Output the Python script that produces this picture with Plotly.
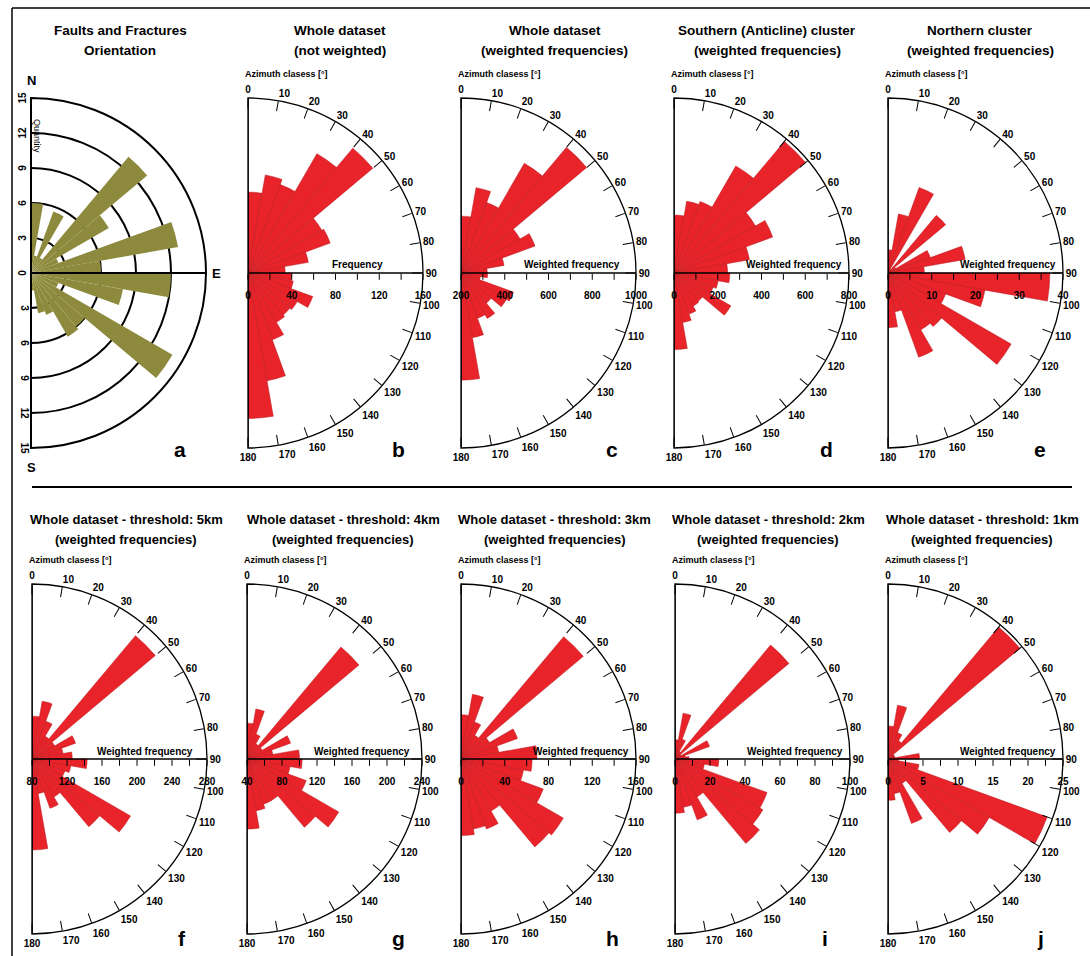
import plotly.graph_objects as go

W, H = 1090, 956
FONT = "Arial, 'Liberation Sans', Helvetica, sans-serif"
RED = "#e8232a"
RED_EDGE = "#b8161c"
OLIVE = "#8d8a3d"

# 10-degree azimuth classes (bin centres) and angular tick marks
azimuth_bins = [5, 15, 25, 35, 45, 55, 65, 75, 85, 95, 105, 115, 125, 135, 145, 155, 165, 175]
azimuth_ticks = [0, 10, 20, 30, 40, 50, 60, 70, 80, 90, 100, 110, 120, 130, 140, 150, 160, 170, 180]

# (a) number of faults / fractures per class
quantity_a = [6.0, 1.5, 5.6, 1.5, 13.0, 7.7, 2.5, 12.8, 6.0, 12.0, 8.0, 2.5, 14.0, 6.0, 6.3, 3.8, 3.5, 1.5]
quantity_ticks = [0, 3, 6, 9, 12, 15]

# (b) whole dataset, not weighted
freq_b = [74, 91, 86, 126, 149, 78, 80, 56, 34, 40, 42, 63, 52, 50, 52, 65, 100, 133]
# (c) whole dataset, weighted
wfreq_c = [460, 596, 543, 779, 950, 512, 560, 400, 320, 322, 290, 455, 440, 380, 440, 420, 500, 690]
# (d) southern (anticline) cluster
wfreq_d = [265, 333, 348, 565, 785, 430, 480, 350, 245, 255, 205, 190, 300, 170, 175, 200, 230, 350]
# (e) northern cluster
wfreq_e = [5.3, 13.7, 20.8, 1.0, 17.2, 2.0, 10.3, 17.9, 8.3, 37.0, 22.5, 14.0, 32.5, 16.0, 15.0, 20.5, 9.0, 12.5]
# (f)-(j) whole dataset with length thresholds 5, 4, 3, 2, 1 km
wfreq_f = [129, 147, 126, 110, 264, 110, 133, 116, 126, 143, 125, 120, 210, 181, 130, 140, 120, 184]
wfreq_g = [81, 98, 70, 60, 207, 60, 93, 70, 100, 103, 90, 112, 161, 142, 95, 95, 100, 120]
wfreq_h = [40.5, 60, 36, 25, 146, 30, 55, 35, 69.5, 65, 58, 80, 108, 105, 55, 68, 65, 70]
wfreq_i = [11, 26.6, 12, 5, 85, 4, 21, 6, 8, 25, 17, 56, 58, 63, 25, 37, 28, 31]
wfreq_j = [4.7, 7.8, 4, 3, 24.6, 1, 1, 1, 4.5, 1.5, 4.5, 24.2, 16.7, 13.7, 4, 9.8, 5, 5.9]

# radial scales: (start, end, tick step, label step)
scale_b = (0, 160, 20, 40)
scale_c = (200, 1000, 100, 200)
scale_d = (0, 800, 100, 200)
scale_e = (0, 40, 5, 10)
scale_f = (80, 280, 20, 40)
scale_g = (40, 240, 20, 40)
scale_h = (0, 160, 20, 40)
scale_i = (0, 100, 10, 20)
scale_j = (0, 25, 2.5, 5)

titles_top = [
    ("Faults and Fractures", "Orientation"),
    ("Whole dataset", "(not weighted)"),
    ("Whole dataset", "(weighted frequencies)"),
    ("Southern (Anticline) cluster", "(weighted frequencies)"),
    ("Northern cluster", "(weighted frequencies)"),
]
titles_bottom = [
    ("Whole dataset - threshold: 5km", "(weighted frequencies)"),
    ("Whole dataset - threshold: 4km", "(weighted frequencies)"),
    ("Whole dataset - threshold: 3km", "(weighted frequencies)"),
    ("Whole dataset - threshold: 2km", "(weighted frequencies)"),
    ("Whole dataset - threshold: 1km", "(weighted frequencies)"),
]
letters_top = ["a", "b", "c", "d", "e"]
letters_bottom = ["f", "g", "h", "i", "j"]

# ---- layout geometry (pixels) ----
R = 175
CY_TOP, CY_BOT = 273, 759
CX_TOP = [31, 248, 461, 674, 888]
CX_BOT = [32, 247, 461, 675, 888]
TITLE_X_TOP = [120, 340, 555, 767, 980]
TITLE_X_BOT = [126, 343, 555, 768, 982]
LETTER_X_TOP = [180, 398, 612, 826, 1040]
LETTER_X_BOT = [182, 398, 612, 825, 1040]
LABEL_DROP = 7  # extra gap between the radial axis and its value labels


def px(x):
    return x / W


def py(y):
    return 1 - y / H


def domain(cx, cy):
    return dict(x=[px(cx), px(cx + R)], y=[py(cy + R), py(cy - R)])


def label(x, y, text, font, **kw):
    d = dict(x=px(x), y=py(y), xref="paper", yref="paper", text=text,
             showarrow=False, xanchor="center", yanchor="middle", font=font)
    d.update(kw)
    return d


fig = go.Figure()
layout_polars = {}
annotations = []

# ---------- panel a ----------
fig.add_trace(go.Barpolar(
    r=quantity_a, theta=azimuth_bins, width=[10] * len(azimuth_bins),
    marker=dict(color=OLIVE, line=dict(width=0)), subplot="polar",
    showlegend=False, hoverinfo="skip"))
fig.add_trace(go.Scatterpolar(
    r=[0, 15, None, 0, 15], theta=[180, 180, None, 90, 90], mode="lines",
    line=dict(color="black", width=2), subplot="polar", showlegend=False,
    hoverinfo="skip"))
tick_font = dict(family=FONT, size=10, color="black", weight="bold")
layout_polars["polar"] = dict(
    domain=domain(CX_TOP[0], CY_TOP), sector=[-90, 90], bgcolor="white",
    radialaxis=dict(range=[0, 15], angle=90, side="counterclockwise",
                    tickmode="array", tickvals=quantity_ticks,
                    ticktext=[str(t) for t in quantity_ticks], tickangle=0,
                    ticks="", showline=True, linecolor="black", linewidth=2,
                    showgrid=True, gridcolor="black", gridwidth=2,
                    tickfont=tick_font),
    angularaxis=dict(rotation=90, direction="clockwise", showticklabels=False,
                     ticks="", showgrid=False, showline=True,
                     linecolor="black", linewidth=2),
)
fig.add_trace(go.Scatterpolar(r=[None], theta=[None], subplot="polar2",
                              showlegend=False, hoverinfo="skip"))
layout_polars["polar2"] = dict(
    domain=domain(CX_TOP[0], CY_TOP), sector=[-90, 90], bgcolor="rgba(0,0,0,0)",
    radialaxis=dict(range=[0, 15], angle=-90, side="clockwise",
                    tickmode="array", tickvals=quantity_ticks[1:],
                    ticktext=[str(t) for t in quantity_ticks[1:]], tickangle=0,
                    ticks="", showline=False, showgrid=False,
                    tickfont=tick_font),
    angularaxis=dict(rotation=90, direction="clockwise", visible=False),
)

# ---------- panels b-j ----------
rose_panels = [
    (freq_b, scale_b, CX_TOP[1], CY_TOP, "Frequency", 0.78),
    (wfreq_c, scale_c, CX_TOP[2], CY_TOP, "Weighted frequency", 0.92),
    (wfreq_d, scale_d, CX_TOP[3], CY_TOP, "Weighted frequency", 0.97),
    (wfreq_e, scale_e, CX_TOP[4], CY_TOP, "Weighted frequency", 0.97),
    (wfreq_f, scale_f, CX_BOT[0], CY_BOT, "Weighted frequency", 0.93),
    (wfreq_g, scale_g, CX_BOT[1], CY_BOT, "Weighted frequency", 0.94),
    (wfreq_h, scale_h, CX_BOT[2], CY_BOT, "Weighted frequency", 0.97),
    (wfreq_i, scale_i, CX_BOT[3], CY_BOT, "Weighted frequency", 0.97),
    (wfreq_j, scale_j, CX_BOT[4], CY_BOT, "Weighted frequency", 0.97),
]

n_panels = len(rose_panels)
for k, (vals, (r0, r1, step, lstep), cx, cy, rtitle, tend) in enumerate(rose_panels):
    name = "polar%d" % (k + 3)
    lab_name = "polar%d" % (k + 3 + n_panels)
    fig.add_trace(go.Barpolar(
        r=[v - r0 for v in vals], base=r0, theta=azimuth_bins,
        width=[10] * len(azimuth_bins),
        marker=dict(color=RED, line=dict(color=RED_EDGE, width=0.5)),
        subplot=name, showlegend=False, hoverinfo="skip"))
    fig.add_trace(go.Scatterpolar(
        r=[r0, r1, None, r0, r1], theta=[0, 0, None, 180, 180], mode="lines",
        line=dict(color="black", width=1.5), subplot=name, showlegend=False,
        hoverinfo="skip"))
    fig.add_trace(go.Scatterpolar(r=[None], theta=[None], subplot=lab_name,
                                  showlegend=False, hoverinfo="skip"))
    n = int(round((r1 - r0) / step))
    tvals = [r0 + i * step for i in range(n + 1)]
    ttext = []
    for t in tvals:
        q = (t - r0) / lstep
        ttext.append(("%g" % t) if abs(q - round(q)) < 1e-9 else "")
    radial_common = dict(range=[r0, r1], angle=0, side="clockwise",
                         tickmode="array", tickvals=tvals, ticks="outside",
                         ticklen=6, tickwidth=1.2, showgrid=False, tickangle=0,
                         tickfont=dict(family=FONT, size=10, color="black",
                                       weight="bold"))
    # axis line and tick marks
    layout_polars[name] = dict(
        domain=domain(cx, cy), sector=[-90, 90], bgcolor="white",
        radialaxis=dict(radial_common, ticktext=[""] * len(tvals),
                        tickcolor="black", showline=True, linecolor="black",
                        linewidth=1.6),
        angularaxis=dict(rotation=90, direction="clockwise", tickmode="array",
                         tickvals=azimuth_ticks,
                         ticktext=[str(t) for t in azimuth_ticks],
                         ticks="inside", ticklen=10, tickwidth=1.2,
                         tickcolor="black", showline=True, linecolor="black",
                         linewidth=1.3, showgrid=False,
                         tickfont=dict(family=FONT, size=10, color="black",
                                       weight="bold")),
    )
    # value labels of the same radial scale, set a little lower
    layout_polars[lab_name] = dict(
        domain=domain(cx, cy + LABEL_DROP), sector=[-90, 90],
        bgcolor="rgba(0,0,0,0)",
        radialaxis=dict(radial_common, ticktext=ttext,
                        tickcolor="rgba(0,0,0,0)", showline=False),
        angularaxis=dict(rotation=90, direction="clockwise", visible=False),
    )
    annotations.append(label(cx + tend * R, cy - 8, rtitle,
                             dict(family=FONT, size=10, color="black", weight="bold"),
                             xanchor="right"))
    annotations.append(label(cx - 5, cy - R - 24, "Azimuth clasess [°]",
                             dict(family=FONT, size=9, color="black", weight="bold"),
                             xanchor="left"))

# ---------- titles and letters ----------
title_font = dict(family=FONT, size=13.5, color="black", weight="bold")
title_font_bot = dict(family=FONT, size=13, color="black", weight="bold")
for (l1, l2), tx in zip(titles_top, TITLE_X_TOP):
    annotations.append(label(tx, 31, l1, title_font))
    annotations.append(label(tx, 50, l2, title_font))
for (l1, l2), tx in zip(titles_bottom, TITLE_X_BOT):
    annotations.append(label(tx, 519, l1, title_font_bot))
    annotations.append(label(tx, 539, l2, title_font_bot))

letter_font = dict(family=FONT, size=21, color="black", weight="bold")
for lt, lx in zip(letters_top, LETTER_X_TOP):
    annotations.append(label(lx, 449, lt, letter_font))
for lt, lx in zip(letters_bottom, LETTER_X_BOT):
    annotations.append(label(lx, 938, lt, letter_font))

compass_font = dict(family=FONT, size=13, color="black", weight="bold")
annotations += [
    label(31, 80, "N", compass_font),
    label(31, 467, "S", compass_font),
    label(216, 273, "E", compass_font),
    label(37, 136, "Quantity", dict(family=FONT, size=9, color="black"),
          textangle=90),
]

shapes = [
    dict(type="line", xref="paper", yref="paper", x0=px(32), x1=px(1072),
         y0=py(487), y1=py(487), line=dict(color="black", width=2)),
    dict(type="line", xref="paper", yref="paper", x0=px(12), x1=px(12),
         y0=py(8), y1=0, line=dict(color="black", width=1.5)),
    dict(type="line", xref="paper", yref="paper", x0=px(12), x1=1,
         y0=py(8), y1=py(8), line=dict(color="black", width=1.5)),
]

fig.update_layout(
    width=W, height=H, margin=dict(l=0, r=0, t=0, b=0),
    paper_bgcolor="white", plot_bgcolor="white", showlegend=False,
    annotations=annotations, shapes=shapes, **layout_polars)

fig.write_html("out.html")
